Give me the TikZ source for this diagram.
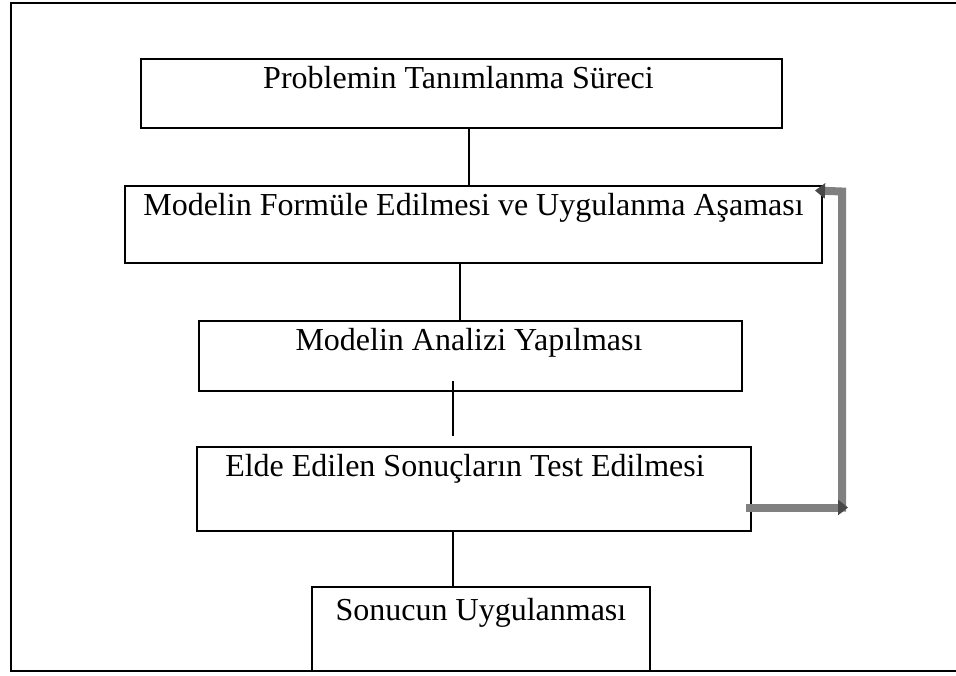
\documentclass[tikz,border=0pt]{standalone}
\usepackage{fontspec}
\setmainfont{Liberation Serif}
\usetikzlibrary{arrows.meta,calc}
\definecolor{backgrey}{RGB}{128,128,128}
\definecolor{tipgrey}{RGB}{72,72,72}
\tikzset{
  stagebox/.style={draw,line width=2pt,inner sep=0pt},
  stagetext/.style={anchor=north,inner sep=0pt,text height=22pt,text depth=7pt,font=\fontsize{32}{38}\selectfont},
  link/.style={line width=1.5pt},
  backline/.style={draw=backgrey,line width=8pt,-{Triangle[width=15pt,length=10pt,color=tipgrey]}},
}

\begin{document}
\begin{tikzpicture}[x=1pt,y=-1pt]
\useasboundingbox (0,0) rectangle (956,675);
\draw[line width=1.7pt] (956,3) -- (11,3) -- (11,671) -- (956,671);

\node[stagebox,minimum width=641pt,minimum height=69pt] (p1) at (461.5,93.5) {};
\node[stagebox,minimum width=697pt,minimum height=77pt] (p2) at (473.5,224.5) {};
\node[stagebox,minimum width=543pt,minimum height=70pt] (p3) at (470.5,356) {};
\node[stagebox,minimum width=554pt,minimum height=84pt] (p4) at (474,489) {};
\node[stagebox,minimum width=338pt,minimum height=84pt] (p5) at (481,629) {};

\node[stagetext] (t1) at ($(p1.north)+(-3,8)$) {Problemin Tanımlanma Süreci};
\node[stagetext] (t2) at ($(p2.north)+(0,8)$) {Modelin Formüle Edilmesi ve Uygulanma Aşaması};
\node[stagetext] (t3) at ($(p3.north)+(-1.5,8)$) {Modelin Analizi Yapılması};
\node[stagetext] (t4) at ($(p4.north)+(-9,8)$) {Elde Edilen Sonuçların Test Edilmesi};
\node[stagetext] (t5) at ($(p5.north)+(0,12)$) {Sonucun Uygulanması};

\foreach \a/\b/\x in {p1/p2/469,p2/p3/460,p4/p5/453}
  \draw[link] (\x,0 |- \a.south) -- (\x,0 |- \b.north);
\draw[link,shorten <=-11pt,shorten >=10pt] (453,0 |- p3.south) -- (453,0 |- p4.north);

\coordinate (turn) at (842,507.5);
\draw[backline] ($(turn)+(0,4)$) -- (842,191.5) -- ($(p2.north east)+(-8,5.5)$);
\draw[backline] ($(p4.east)+(-6,18.5)$) -- ($(turn)+(6,0)$);
\end{tikzpicture}
\end{document}
